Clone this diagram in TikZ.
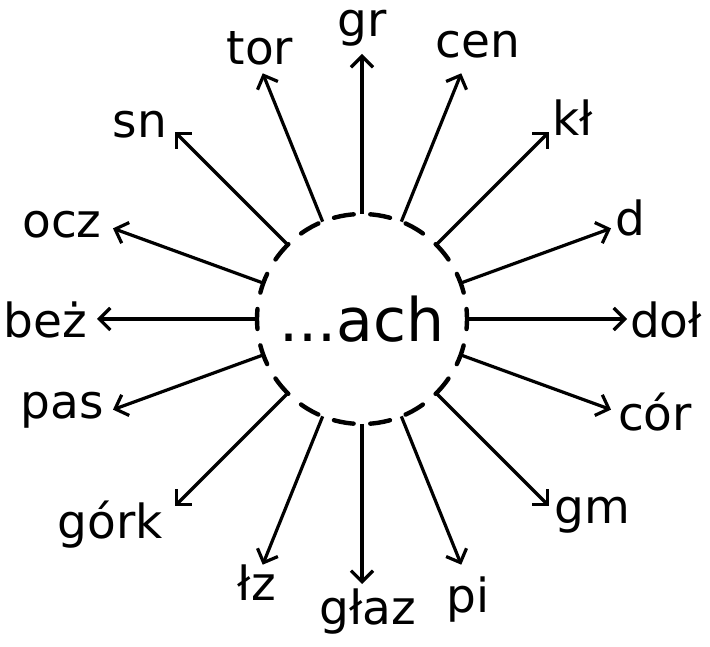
\documentclass[tikz,border=0pt]{standalone}
\usepackage{fontspec}
\setmainfont{DejaVu Sans}
\usetikzlibrary{arrows.meta,calc}

\begin{document}
\begin{tikzpicture}[
  x=1pt, y=1pt,
  spoke/.style={-{Straight Barb[length=11pt,width=22pt]}, line width=3.2pt},
  word/.style={font=\fontsize{47}{52}\selectfont, inner sep=0pt},
  ring/.style={line width=4.4pt, line cap=round, dash pattern=on 20pt off 16.65pt, dash phase=10pt},
]
  \useasboundingbox (0,0) rectangle (710,646);

  % hub with the dashed ring
  \node[font=\fontsize{60}{66}\selectfont, inner sep=0pt] (hub) at (362,327) {...ach};
  \draw[ring] (hub.center) circle (105);

  % spokes: angle / name / text / label position
  \foreach \a/\nm/\txt/\lx/\ly in {
      90/gr/gr/362/618, 68/cen/cen/478/601, 45/kl/kł/573/528,
      20/d/d/630/428, 0/dol/doł/666/326, -20/cor/cór/655/234,
      -45/gm/gm/592/131, -68/pi/pi/468/46, -90/glaz/głaz/368/34,
      -112/lz/łz/257/63, -135/gork/górk/110/121, -160/pas/pas/62/236,
      180/bez/beż/45/326, 160/ocz/ocz/62/421, 135/sn/sn/140/521,
      112/tor/tor/260/598}
  {
    \coordinate (s-\nm) at ($(hub.center)+(\a:105)$);
    \coordinate (e-\nm) at ($(hub.center)+(\a:265)$);
    \node[word] (\nm) at (\lx,\ly) {\txt};
    \draw[spoke] (s-\nm) -- (e-\nm);
  }

\end{tikzpicture}
\end{document}
